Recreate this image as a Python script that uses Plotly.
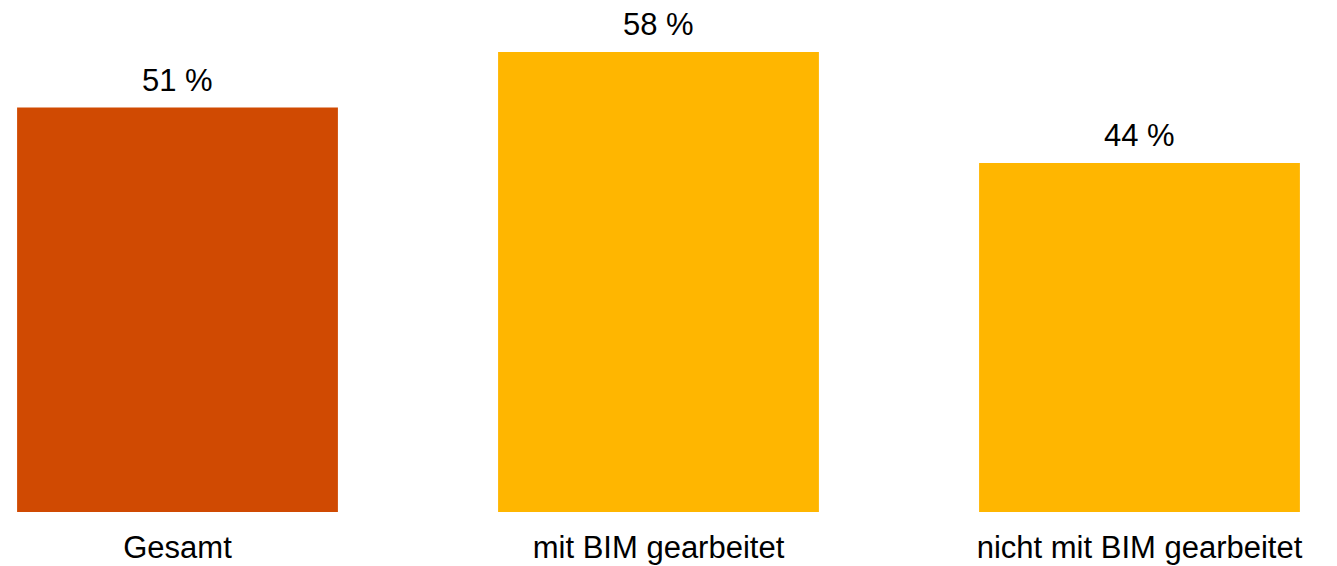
import plotly.graph_objects as go

categories = ["Gesamt", "mit BIM gearbeitet", "nicht mit BIM gearbeitet"]
values = [51, 58, 44]
labels = ["51 %", "58 %", "44 %"]
colors = ["#D04A02", "#FFB600", "#FFB600"]

xpos = list(range(len(categories)))

fig = go.Figure(go.Bar(
    x=xpos, y=values, width=0.667,
    marker=dict(color=colors, line=dict(width=0)),
    hoverinfo="skip",
))

for x, v, t in zip(xpos, values, labels):
    fig.add_annotation(x=x, y=v, text=t, showarrow=False, yanchor="bottom",
                       yshift=8, font=dict(size=31, color="#000000", family="Liberation Sans, Arial"))

fig.update_layout(
    width=1321, height=558,
    margin=dict(l=0, r=0, t=0, b=54, autoexpand=False),
    plot_bgcolor="white", paper_bgcolor="white",
    showlegend=False,
    font=dict(family="Liberation Sans, Arial", size=31, color="#000000"),
    xaxis=dict(range=[-0.3524, 2.394], tickvals=xpos, ticktext=categories,
               showgrid=False, zeroline=False, showline=False, ticks="",
               automargin=False,
               ticklabelstandoff=14, tickfont=dict(size=31)),
    yaxis=dict(range=[0, 63.56], visible=False, showgrid=False, zeroline=False,
               automargin=False),
)

fig.write_html("out.html")
